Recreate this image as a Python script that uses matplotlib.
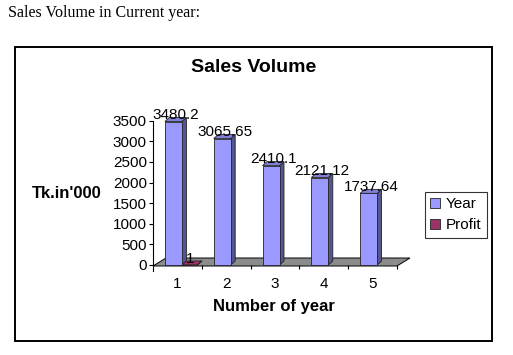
import matplotlib
matplotlib.use("Agg")
import matplotlib.pyplot as plt
from matplotlib.patches import Polygon, Rectangle, Patch

# ---- data ----
categories = [1, 2, 3, 4, 5]
year_values = [3480.2, 3065.65, 2410.1, 2121.12, 1737.64]
profit_values = [1, None, None, None, None]
year_labels = ["3480.2", "3065.65", "2410.1", "2121.12", "1737.64"]
profit_labels = ["1", None, None, None, None]
yticks = [0, 500, 1000, 1500, 2000, 2500, 3000, 3500]

W, H = 513, 355
fig = plt.figure(figsize=(W / 100, H / 100), dpi=100)
fig.patch.set_facecolor("white")

def fx(px):
    return px / W

def fy(py):
    return 1 - py / H

FONT = "Liberation Sans"

# outer text and chart frame
fig.text(fx(8), fy(17), "Sales Volume in Current year:", family="Liberation Serif",
         fontsize=11.5, ha="left", va="baseline")
fig.patches.append(Rectangle((fx(15), fy(341)), fx(492) - fx(15), fy(47) - fy(341),
                             transform=fig.transFigure, fill=False, edgecolor="black",
                             linewidth=1.4))
fig.text(fx(254), fy(68), "Sales Volume", family=FONT, fontsize=14, fontweight="bold",
         ha="center", va="center")
fig.text(fx(67), fy(193), "Tk.in'000", family=FONT, fontsize=12, fontweight="bold",
         ha="center", va="center")
fig.text(fx(274), fy(307), "Number of year", family=FONT, fontsize=12, fontweight="bold",
         ha="center", va="center")

# plot axes
x0, x1 = 153, 397
y0, y1 = 265, 120.7
ax = fig.add_axes([fx(x0), fy(y0), fx(x1) - fx(x0), fy(y1) - fy(y0)])
ax.set_xlim(0.5, 5.5)
ax.set_ylim(0, 3500)
ax.patch.set_alpha(0)
for s in ["top", "right", "bottom"]:
    ax.spines[s].set_visible(False)
ax.spines["left"].set_linewidth(0.8)
ax.spines["left"].set_bounds(-150, 3500)

px_x = 1 / ((x1 - x0) / 5.0)          # data units per pixel (x)
px_y = 3500 / (y0 - y1)               # data units per pixel (y)

# floor
fdx, fdy = 13 * px_x, 8 * px_y
ax.add_patch(Polygon([(0.5, -1 * px_y), (5.5, -1 * px_y), (5.5 + fdx, -1 * px_y + fdy),
                      (0.5 + fdx, -1 * px_y + fdy)], closed=True, facecolor="#8c8c8c",
                     edgecolor="black", linewidth=0.7, clip_on=False, zorder=1))

def bar3d(xl, xr, h, front, side, top):
    dx, dy = 4.5 * px_x, 4 * px_y
    ec = "#222222"
    lw = 0.6
    ax.add_patch(Polygon([(xr, 0), (xr + dx, dy), (xr + dx, h + dy), (xr, h)],
                         facecolor=side, edgecolor=ec, linewidth=lw, clip_on=False, zorder=3))
    ax.add_patch(Polygon([(xl, h), (xr, h), (xr + dx, h + dy), (xl + dx, h + dy)],
                         facecolor=top, edgecolor=ec, linewidth=lw, clip_on=False, zorder=3))
    ax.add_patch(Polygon([(xl, 0), (xr, 0), (xr, h), (xl, h)],
                         facecolor=front, edgecolor=ec, linewidth=lw, clip_on=False, zorder=4))

for c, v, lab in zip(categories, year_values, year_labels):
    xl, xr = c - 12.5 * px_x, c + 4.5 * px_x
    bar3d(xl, xr, v, "#9999ff", "#55558f", "#7f7fd6")
    ax.annotate(lab, (c - 1.5 * px_x, v), xytext=(0, 4.5), textcoords="offset points",
                ha="center", va="center", family=FONT, fontsize=11, zorder=6,
                annotation_clip=False)

for c, v, lab in zip(categories, profit_values, profit_labels):
    if v is None:
        continue
    xl, xr = c + 4.5 * px_x, c + 20 * px_x
    bar3d(xl, xr, v, "#993366", "#6b2347", "#993366")
    ax.annotate(lab, (c + 13 * px_x, v), xytext=(0, 4.5), textcoords="offset points",
                ha="center", va="center", family=FONT, fontsize=11, zorder=6,
                annotation_clip=False)

# ticks
ax.set_yticks(yticks)
ax.set_yticklabels([str(t) for t in yticks], family=FONT, fontsize=11)
ax.tick_params(axis="y", length=3, width=0.8, pad=1.5)
ax.set_xticks(categories)
ax.set_xticklabels([str(c) for c in categories], family=FONT, fontsize=11)
ax.tick_params(axis="x", which="major", length=0, pad=9)
ax.set_xticks([c + 0.5 for c in categories], minor=True)
ax.tick_params(axis="x", which="minor", length=3, width=0.8, direction="out")

# legend
handles = [Patch(facecolor="#9999ff", edgecolor="#222222", linewidth=0.6, label="Year"),
           Patch(facecolor="#993366", edgecolor="#222222", linewidth=0.6, label="Profit")]
leg = fig.legend(handles=handles, loc="upper left", bbox_to_anchor=(fx(425), fy(192)),
                 borderaxespad=0, frameon=True, fancybox=False, edgecolor="black",
                 handlelength=0.6, handleheight=0.6, handletextpad=0.4, borderpad=0.35,
                 labelspacing=0.45, prop={"family": FONT, "size": 11})
leg.get_frame().set_linewidth(0.8)

fig.savefig("out.png", dpi=100)
